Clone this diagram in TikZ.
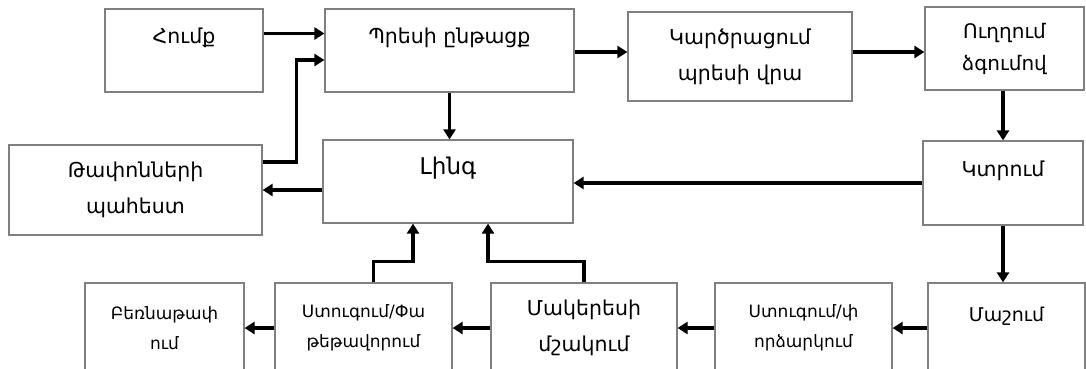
\documentclass[tikz,border=0pt]{standalone}
\usepackage{fontspec}
\setmainfont{DejaVu Sans}
\usetikzlibrary{arrows.meta}
\tikzset{
box/.style={draw=black!50,line width=1.2pt,fill=white,align=center,inner sep=2pt},
big/.style={font=\fontsize{20.5}{36}\selectfont},
mid/.style={font=\fontsize{20}{32}\selectfont},
small/.style={font=\fontsize{17}{30}\selectfont},
uptext/.style={text height=14pt,text depth=28pt},
arr/.style={line width=3.2pt,-{Triangle[length=10pt,width=12pt]}}
}
\begin{document}
\begin{tikzpicture}[x=1pt,y=-1pt]
\useasboundingbox (0,0) rectangle (1086,368);

\node[box,big,uptext,minimum width=158pt,minimum height=83pt] (humq) at (184,50.5) {Հումք};
\node[box,big,uptext,minimum width=249pt,minimum height=83pt] (press) at (449.5,50.5) {Պրեսի ընթացք};
\node[box,big,minimum width=224pt,minimum height=89pt] (hard) at (740,56.5) {Կարծրացում\\պրեսի վրա};
\node[box,mid,minimum width=159pt,minimum height=83pt] (straight) at (1004.5,48.5) {Ուղղում\\ձգումով};

\node[box,big,minimum width=253pt,minimum height=90pt] (waste) at (135.5,190) {Թափոնների\\պահեստ};
\node[box,big,uptext,minimum width=250pt,minimum height=83pt,font=\fontsize{23}{36}\selectfont] (ingot) at (448,181.5) {Լինգ};
\node[box,big,uptext,minimum width=160pt,minimum height=84pt] (cut) at (1003,183) {Կտրում};

\node[box,small,minimum width=159pt,minimum height=90pt] (unload) at (164.5,328) {Բեռնաթափ\\ում};
\node[box,small,minimum width=177pt,minimum height=90pt] (pack) at (363.5,328) {Ստուգում/Փա\\թեթավորում};
\node[box,big,minimum width=186pt,minimum height=90pt] (surface) at (584,328) {Մակերեսի\\մշակում};
\node[box,small,minimum width=177pt,minimum height=90pt] (test) at (803.5,328) {Ստուգում/փ\\որձարկում};
\node[box,uptext,minimum width=157pt,minimum height=90pt,font=\fontsize{19}{36}\selectfont] (wear) at (1006.5,328) {Մաշում};

\draw[arr] ([yshift=17pt]humq.east) -- ([yshift=17pt]humq.east -| press.west);
\draw[arr] ([yshift=28pt]waste.east) -- ++(34,0) |- ([yshift=-9.5pt]press.west);
\draw[arr] ([yshift=-1.5pt]press.east) -- ([yshift=-1.5pt]press.east -| hard.west);
\draw[arr] ([yshift=4.5pt]hard.east) -- ([yshift=4.5pt]hard.east -| straight.west);
\draw[arr] (cut.north |- straight.south) -- (cut.north);
\draw[arr] (press.south) -- (press.south |- ingot.north);
\draw[arr] (cut.west) -- (cut.west -| ingot.east);
\draw[arr] (ingot.west |- waste.east) -- (waste.east);
\draw[arr] (cut.south) -- (cut.south |- wear.north);
\draw[arr] (wear.west) -- (wear.west -| test.east);
\draw[arr] (test.west) -- (test.west -| surface.east);
\draw[arr] (surface.west) -- (surface.west -| pack.east);
\draw[arr] (pack.west) -- (pack.west -| unload.east);
\draw[arr] ([xshift=10pt]pack.north) -- ++(0,-21) -| ([xshift=-35pt]ingot.south);
\draw[arr] (surface.north) -- ++(0,-21) -| ([xshift=40pt]ingot.south);

\end{tikzpicture}
\end{document}
